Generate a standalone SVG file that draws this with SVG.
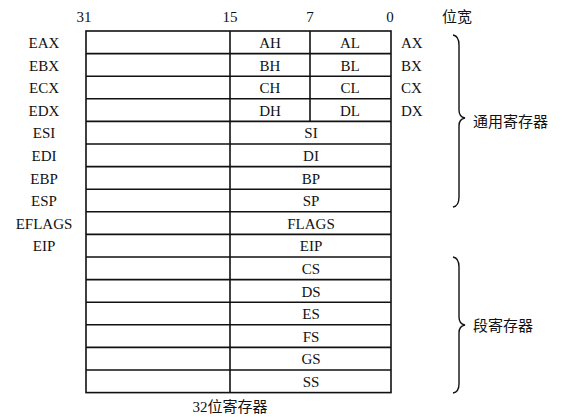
<svg xmlns="http://www.w3.org/2000/svg" width="569" height="420" viewBox="0 0 569 420">
  <style>
    .t { font-family: "Liberation Serif", "Noto Sans CJK SC", serif; font-size: 15px; fill: #111; }
    .c { text-anchor: middle; }
    .cjk { font-family: "Liberation Serif", "Noto Sans CJK SC", sans-serif; font-size: 15px; fill: #111; }
    .grid { stroke: #111; stroke-width: 1.6; fill: none; }
    .brace { stroke: #111; stroke-width: 1.4; fill: none; }
  </style>
  <rect width="569" height="420" fill="#fff"/>

  <!-- bit positions -->
  <g id="bits" class="t c">
    <text x="84" y="22">31</text>
    <text x="230" y="22">15</text>
    <text x="310" y="22">7</text>
    <text x="390" y="22">0</text>
  </g>
  <text id="width-label" class="cjk" x="442" y="22">位宽</text>

  <!-- register table -->
  <g id="table" class="grid">
    <rect x="86" y="31" width="305" height="361.6"/>
    <line x1="230" y1="31" x2="230" y2="392.6"/>
    <line x1="310" y1="31" x2="310" y2="121.4"/>
    <path d="M86 53.6H391M86 76.2H391M86 98.8H391M86 121.4H391M86 144H391M86 166.6H391M86 189.2H391M86 211.8H391M86 234.4H391M86 257H391M86 279.6H391M86 302.2H391M86 324.8H391M86 347.4H391M86 370H391"/>
  </g>

  <!-- 32-bit names -->
  <g id="names32" class="t c">
    <text x="44" y="48">EAX</text>
    <text x="44" y="70.6">EBX</text>
    <text x="44" y="93.2">ECX</text>
    <text x="44" y="115.8">EDX</text>
    <text x="44" y="138.4">ESI</text>
    <text x="44" y="161">EDI</text>
    <text x="44" y="183.6">EBP</text>
    <text x="44" y="206.2">ESP</text>
    <text x="44" y="228.8">EFLAGS</text>
    <text x="44" y="251.4">EIP</text>
  </g>

  <!-- 8-bit halves -->
  <g id="halves" class="t c">
    <text x="270" y="48">AH</text><text x="350" y="48">AL</text>
    <text x="270" y="70.6">BH</text><text x="350" y="70.6">BL</text>
    <text x="270" y="93.2">CH</text><text x="350" y="93.2">CL</text>
    <text x="270" y="115.8">DH</text><text x="350" y="115.8">DL</text>
  </g>

  <!-- 16-bit names -->
  <g id="names16" class="t c">
    <text x="311" y="138.4">SI</text>
    <text x="311" y="161">DI</text>
    <text x="311" y="183.6">BP</text>
    <text x="311" y="206.2">SP</text>
    <text x="311" y="228.8">FLAGS</text>
    <text x="311" y="251.4">EIP</text>
    <text x="311" y="274">CS</text>
    <text x="311" y="296.6">DS</text>
    <text x="311" y="319.2">ES</text>
    <text x="311" y="341.8">FS</text>
    <text x="311" y="364.4">GS</text>
    <text x="311" y="387">SS</text>
  </g>

  <!-- 16-bit register names on the right -->
  <g id="names16r" class="t">
    <text x="401" y="48">AX</text>
    <text x="401" y="70.6">BX</text>
    <text x="401" y="93.2">CX</text>
    <text x="401" y="115.8">DX</text>
  </g>

  <!-- group braces -->
  <g id="connectors" class="brace">
    <path d="M453 35 Q459 36 459 45 V110 Q459 117 465 118 Q459 119 459 126 V197 Q459 206 453 207"/>
    <path d="M453 257 Q459 258 459 267 V317 Q459 324 465 325 Q459 326 459 333 V384 Q459 392 453 393"/>
  </g>

  <g id="general-label"><text class="cjk" x="473" y="127">通用寄存器</text></g>
  <g id="segment-label"><text class="cjk" x="473" y="331">段寄存器</text></g>
  <g id="caption"><text class="cjk c" x="230" y="412">32位寄存器</text></g>
</svg>
